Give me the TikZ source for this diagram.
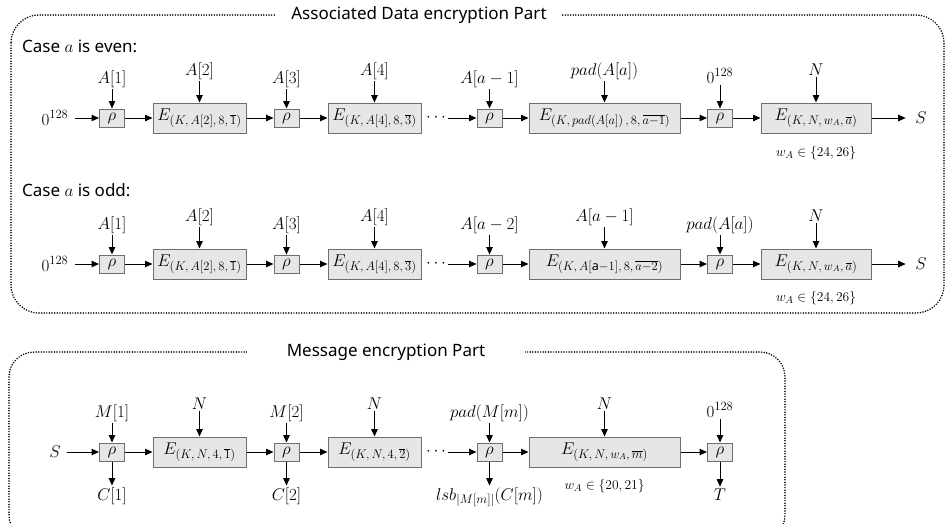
\documentclass[tikz,border=0pt]{standalone}
\usepackage{fix-cm}
\usepackage{fontspec}
\setmainfont{Noto Sans}
\usetikzlibrary{arrows.meta}
\renewcommand\defaultscriptratio{.74}
\definecolor{boxfill}{HTML}{E6E6E6}
\definecolor{boxdraw}{HTML}{6E6E6E}
\newcommand\myM{\fontsize{17}{20}\selectfont}
\newcommand\myS{\fontsize{13.5}{16}\selectfont}
\newcommand\myT{\fontsize{17}{20}\selectfont}
\tikzset{
 rhobox/.style={draw=boxdraw, fill=boxfill, line width=1pt, minimum width=25pt, minimum height=18pt, inner sep=0pt, font=\myM},
 ebox/.style={draw=boxdraw, fill=boxfill, line width=1pt, minimum height=30pt, inner sep=0pt, font=\myM},
 lbl/.style={inner sep=1.5pt, font=\myM},
 top/.style={lbl, anchor=base},
 small/.style={inner sep=1pt, font=\myS},
 arr/.style={line width=1pt, -{Triangle[length=7.5pt,width=6.5pt]}},
 frame/.style={line width=1.7pt, dash pattern=on 0pt off 2.6pt, line cap=round},
 titlebox/.style={fill=white, inner ysep=2pt, font=\myT},
 caselbl/.style={anchor=west, inner sep=0pt, font=\myT}
}
\begin{document}
\begin{tikzpicture}[x=1pt,y=-1pt]
\fill[white] (0,0) rectangle (946,523);
\useasboundingbox (0,0) rectangle (946,523);
\clip (0,0) rectangle (946,523);
% frames
\draw[frame, rounded corners=28pt] (11,15) rectangle (944,313);
\draw[frame, rounded corners=25pt] (9,352) rectangle (785,540);
\node[titlebox, inner xsep=15pt] (t1) at (419,15) {Associated Data encryption Part};
\node[titlebox, inner xsep=40pt] (t2) at (386,352) {Message encryption Part};
\node[caselbl] (ce) at (22,46) {Case $a$ is even:};
\node[caselbl] (co) at (22,190) {Case $a$ is odd:};

% ---------- Row 1 (a even), c = 118
\node[lbl] (z1) at (55,118) {$0^{128}$};
\node[rhobox] (r11) at (112,118) {$\rho$};
\node[ebox, minimum width=93pt] (e11) at (199.5,118) {$E_{(K,\,A[2],\,8,\,\overline{1})}$};
\node[rhobox] (r12) at (286.5,118) {$\rho$};
\node[ebox, minimum width=93pt] (e12) at (374.5,118) {$E_{(K,\,A[4],\,8,\,\overline{3})}$};
\node[lbl] (d1) at (436,118) {$\cdots$};
\node[rhobox] (r13) at (489.5,118) {$\rho$};
\node[ebox, minimum width=151pt] (e13) at (604.5,118) {$E_{(K,\,pad(A[a])\,,\,8,\,\overline{a-1})}$};
\node[rhobox] (r14) at (720,118) {$\rho$};
\node[ebox, minimum width=110pt] (e14) at (816,118) {$E_{(K,\,N,\,w_A,\,\overline{a})}$};
\node[lbl] (s1) at (921,118) {$S$};
\node[small] (w1) at (816,153) {$w_A\in\{24,26\}$};
\node[top] (a11) at (112,83) {$A[1]$};
\node[top] (b11) at (199.5,75) {$A[2]$};
\node[top] (a12) at (286.5,83) {$A[3]$};
\node[top] (b12) at (374.5,75) {$A[4]$};
\node[top] (a13) at (489.5,83) {$A[a-1]$};
\node[top] (b13) at (604.5,75) {$pad(A[a])$};
\node[top] (a14) at (720,83) {$0^{128}$};
\node[top] (b14) at (816,75) {$N$};
\draw[arr, shorten <=5pt] (z1) -- (r11);
\draw[arr] (r11) -- (e11);
\draw[arr] (e11) -- (r12);
\draw[arr] (r12) -- (e12);
\draw[arr] (d1) -- (r13);
\draw[arr] (r13) -- (e13);
\draw[arr] (e13) -- (r14);
\draw[arr] (r14) -- (e14);
\draw[arr, shorten >=8pt] (e14) -- (s1);
\draw[arr] (a11) -- (r11);
\draw[arr] (b11) -- (e11);
\draw[arr] (a12) -- (r12);
\draw[arr] (b12) -- (e12);
\draw[arr] (a13) -- (r13);
\draw[arr] (b13) -- (e13);
\draw[arr] (a14) -- (r14);
\draw[arr] (b14) -- (e14);

% ---------- Row 2 (a odd), c = 264
\node[lbl] (z2) at (55,264) {$0^{128}$};
\node[rhobox] (r21) at (112,264) {$\rho$};
\node[ebox, minimum width=93pt] (e21) at (199.5,264) {$E_{(K,\,A[2],\,8,\,\overline{1})}$};
\node[rhobox] (r22) at (286.5,264) {$\rho$};
\node[ebox, minimum width=93pt] (e22) at (374.5,264) {$E_{(K,\,A[4],\,8,\,\overline{3})}$};
\node[lbl] (d2) at (436,264) {$\cdots$};
\node[rhobox] (r23) at (489.5,264) {$\rho$};
\node[ebox, minimum width=151pt] (e23) at (604.5,264) {$E_{(K,\,A[\mathrm{a}-1],\,8,\,\overline{a-2})}$};
\node[rhobox] (r24) at (720,264) {$\rho$};
\node[ebox, minimum width=110pt] (e24) at (816,264) {$E_{(K,\,N,\,w_A,\,\overline{a})}$};
\node[lbl] (s2) at (921,264) {$S$};
\node[small] (w2) at (816,298) {$w_A\in\{24,26\}$};
\node[top] (a21) at (112,229) {$A[1]$};
\node[top] (b21) at (199.5,221) {$A[2]$};
\node[top] (a22) at (286.5,229) {$A[3]$};
\node[top] (b22) at (374.5,221) {$A[4]$};
\node[top] (a23) at (489.5,229) {$A[a-2]$};
\node[top] (b23) at (604.5,221) {$A[a-1]$};
\node[top] (a24) at (720,229) {$pad(A[a])$};
\node[top] (b24) at (816,221) {$N$};
\draw[arr, shorten <=5pt] (z2) -- (r21);
\draw[arr] (r21) -- (e21);
\draw[arr] (e21) -- (r22);
\draw[arr] (r22) -- (e22);
\draw[arr] (d2) -- (r23);
\draw[arr] (r23) -- (e23);
\draw[arr] (e23) -- (r24);
\draw[arr] (r24) -- (e24);
\draw[arr, shorten >=8pt] (e24) -- (s2);
\draw[arr] (a21) -- (r21);
\draw[arr] (b21) -- (e21);
\draw[arr] (a22) -- (r22);
\draw[arr] (b22) -- (e22);
\draw[arr] (a23) -- (r23);
\draw[arr] (b23) -- (e23);
\draw[arr] (a24) -- (r24);
\draw[arr] (b24) -- (e24);

% ---------- Message row, c = 452
\node[lbl] (s3) at (55,452) {$S$};
\node[rhobox] (r31) at (112,452) {$\rho$};
\node[ebox, minimum width=93pt] (e31) at (199.5,452) {$E_{(K,\,N,\,4,\,\overline{1})}$};
\node[rhobox] (r32) at (286.5,452) {$\rho$};
\node[ebox, minimum width=93pt] (e32) at (374.5,452) {$E_{(K,\,N,\,4,\,\overline{2})}$};
\node[lbl] (d3) at (436,452) {$\cdots$};
\node[rhobox] (r33) at (489.5,452) {$\rho$};
\node[ebox, minimum width=151pt] (e33) at (604.5,452) {$E_{(K,\,N,\,w_A,\,\overline{m})}$};
\node[rhobox] (r34) at (720,452) {$\rho$};
\node[small] (w3) at (604.5,486) {$w_A\in\{20,21\}$};
\node[top] (a31) at (112,417) {$M[1]$};
\node[top] (b31) at (199.5,409) {$N$};
\node[top] (a32) at (286.5,417) {$M[2]$};
\node[top] (b32) at (374.5,409) {$N$};
\node[top] (a33) at (489.5,417) {$pad(M[m])$};
\node[top] (b33) at (604.5,409) {$N$};
\node[top] (a34) at (720,417) {$0^{128}$};
\node[top] (c31) at (112,500) {$C[1]$};
\node[top] (c32) at (286.5,500) {$C[2]$};
\node[top] (c33) at (489.5,500) {$lsb_{|M[m]|}(C[m])$};
\node[top] (c34) at (720,500) {$T$};
\draw[arr, shorten <=5pt] (s3) -- (r31);
\draw[arr] (r31) -- (e31);
\draw[arr] (e31) -- (r32);
\draw[arr] (r32) -- (e32);
\draw[arr] (d3) -- (r33);
\draw[arr] (r33) -- (e33);
\draw[arr] (e33) -- (r34);
\draw[arr] (a31) -- (r31);
\draw[arr] (b31) -- (e31);
\draw[arr] (a32) -- (r32);
\draw[arr] (b32) -- (e32);
\draw[arr] (a33) -- (r33);
\draw[arr] (b33) -- (e33);
\draw[arr] (a34) -- (r34);
\draw[arr] (r31) -- (c31);
\draw[arr] (r32) -- (c32);
\draw[arr] (r33) -- (c33);
\draw[arr] (r34) -- (c34);
\end{tikzpicture}
\end{document}
